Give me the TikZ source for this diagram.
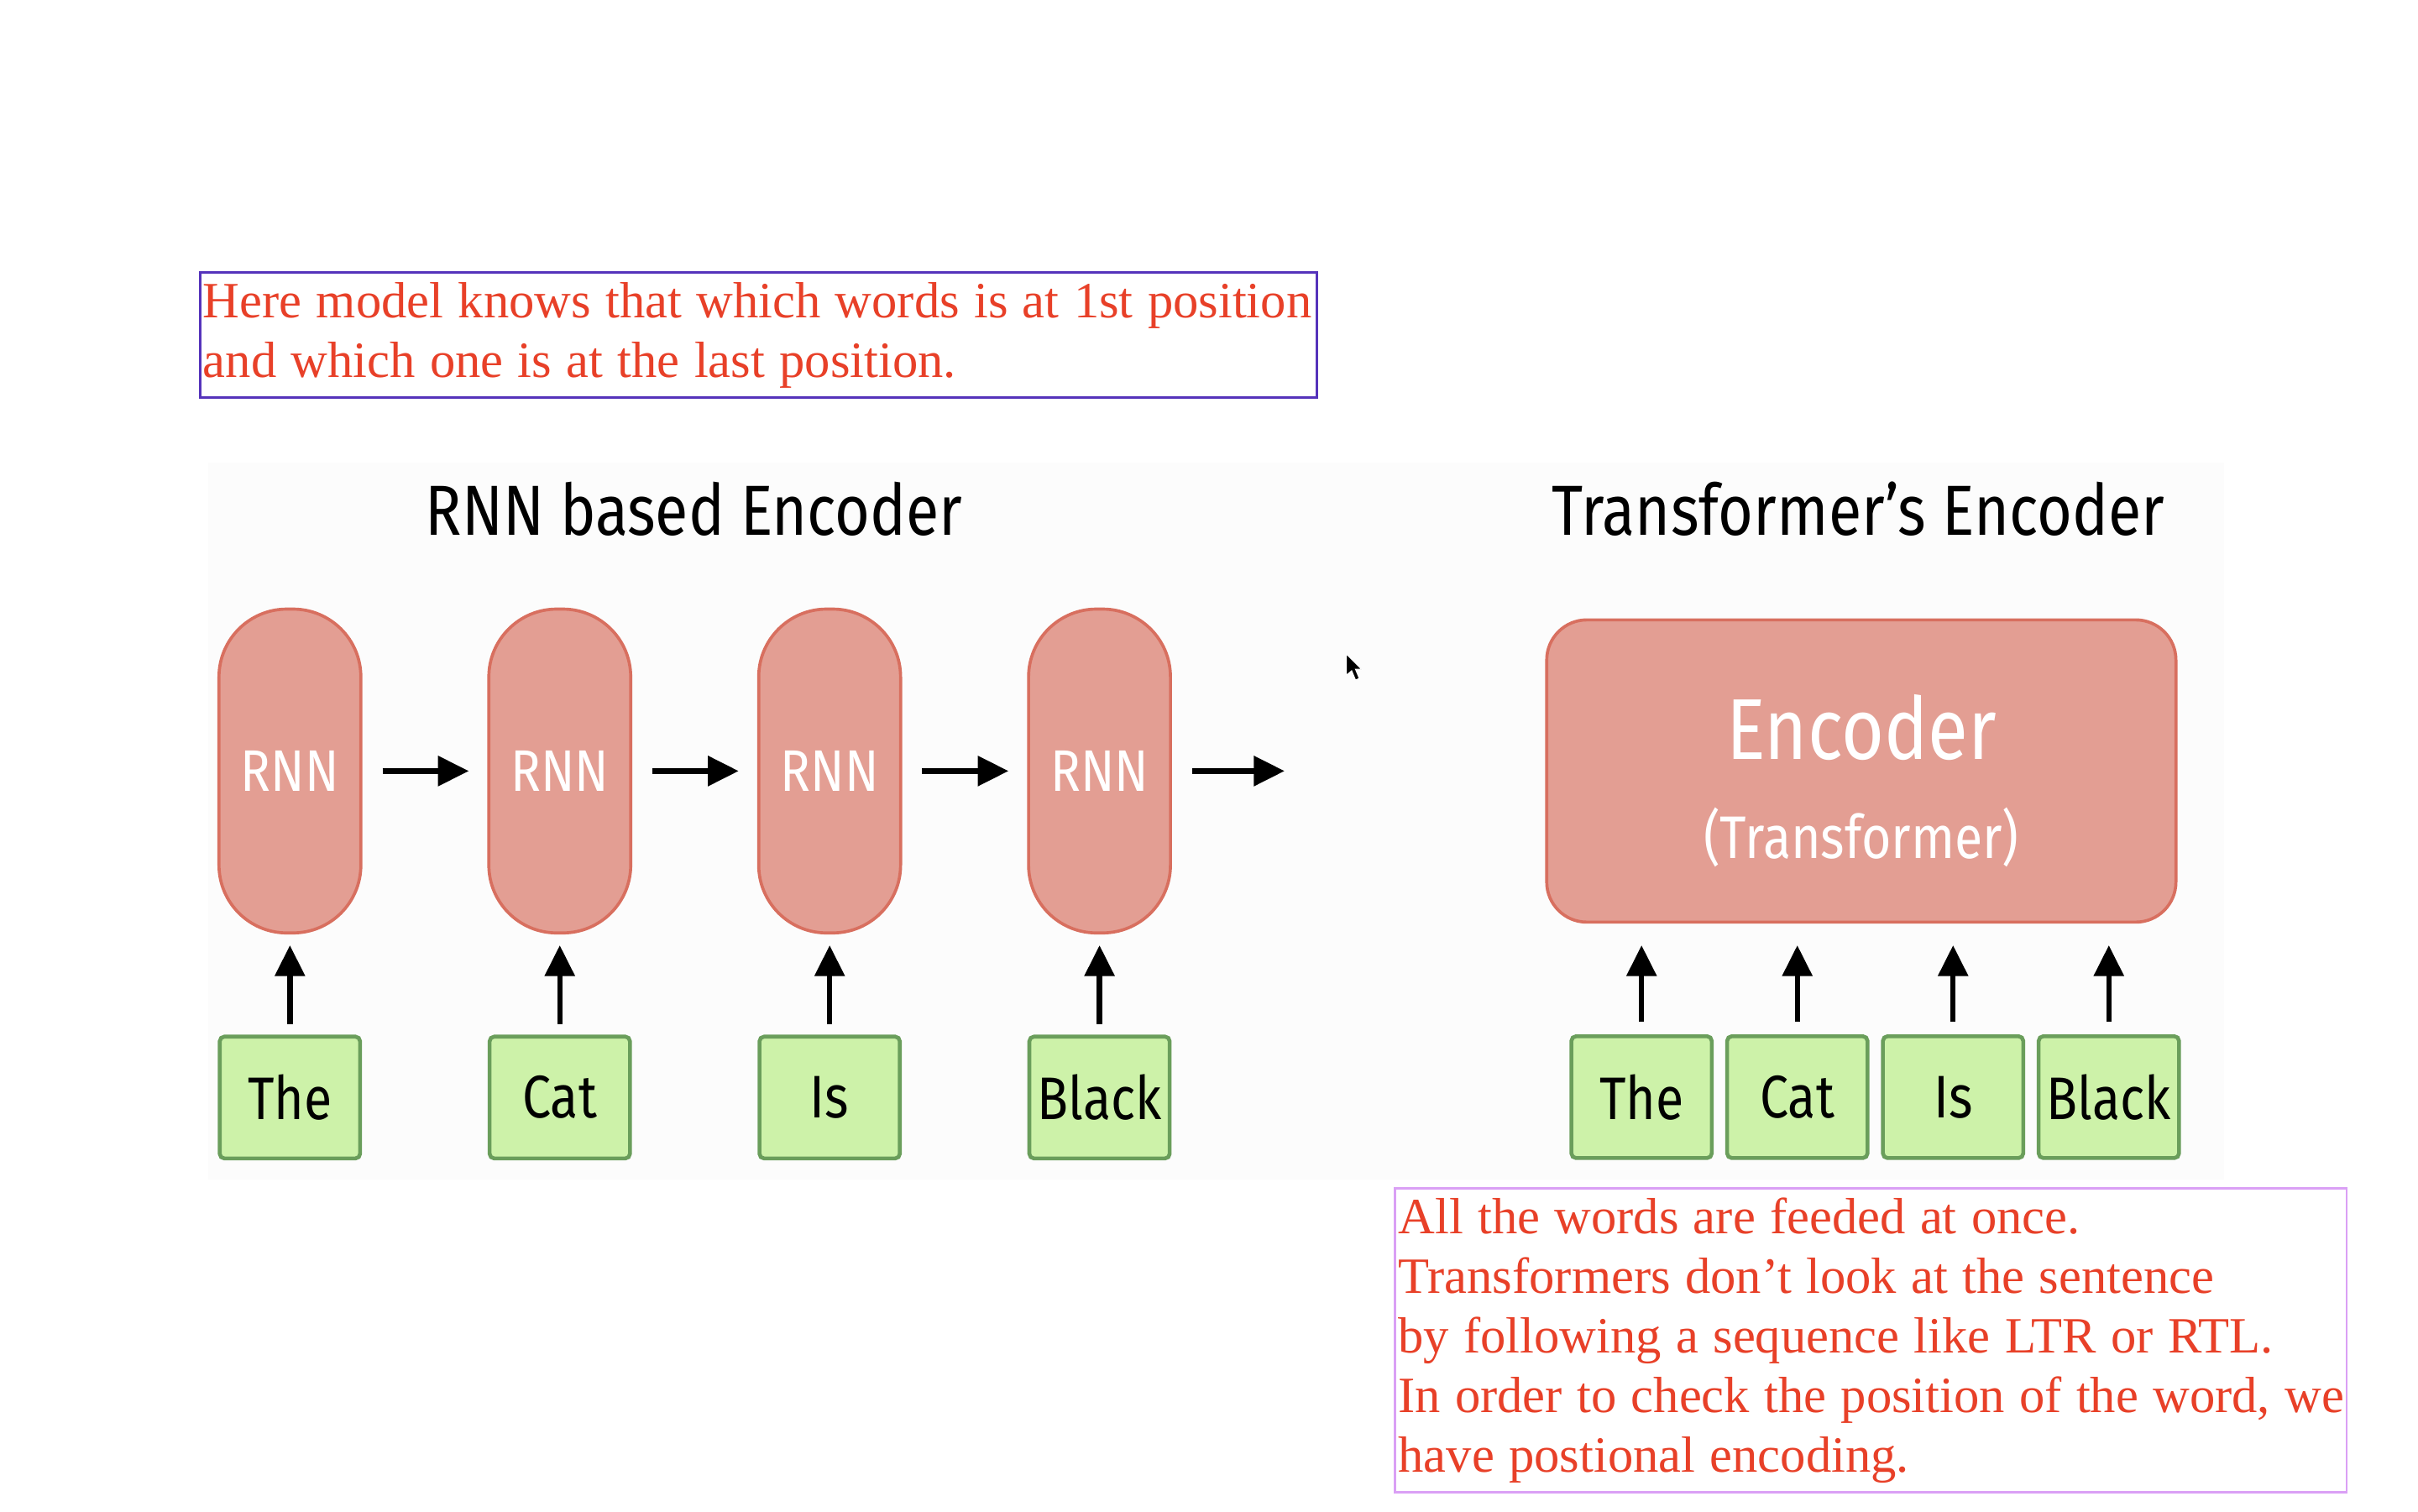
\documentclass[tikz,border=0pt]{standalone}
\usepackage{fontspec}
\setmainfont{Liberation Serif}
\newfontfamily\handfont[FakeStretch=0.85]{Fira Sans}
\usepackage{xcolor}
\usetikzlibrary{arrows.meta,positioning}

\definecolor{notered}{RGB}{232,64,40}
\definecolor{noteblue}{RGB}{85,51,187}
\definecolor{noteviolet}{RGB}{218,160,245}
\definecolor{rnnfill}{RGB}{227,158,147}
\definecolor{rnnline}{RGB}{216,111,95}
\definecolor{wordfill}{RGB}{205,242,169}
\definecolor{wordline}{RGB}{106,158,91}

\begin{document}
\begin{tikzpicture}[
    x=1pt, y=-1pt,
    node distance=81pt,
    note/.style={draw, line width=1.5pt, text=notered, anchor=north west, inner xsep=2pt, inner ysep=5pt, font=\fontsize{33}{38.7}\selectfont, execute at begin node={\raggedright\spaceskip=9.4pt plus 2pt minus 1pt}},
    rnn/.style={rectangle, rounded corners=44pt, draw=rnnline, fill=rnnfill, line width=2pt, minimum width=92pt, minimum height=210pt, text=white, font=\handfont\fontsize{38}{40}\selectfont},
    encbox/.style={rectangle, rounded corners=26pt, draw=rnnline, fill=rnnfill, line width=2pt, minimum width=408pt, minimum height=196pt},
    word/.style={rectangle, rounded corners=3pt, draw=wordline, fill=wordfill, line width=2.5pt, minimum width=91pt, minimum height=79pt, font=\handfont\fontsize{39}{41}\selectfont},
    title/.style={font=\handfont\fontsize{46}{50}\selectfont},
    flow/.style={-{Triangle[length=20pt,width=19pt]}, line width=3.5pt}
]
\useasboundingbox (0,0) rectangle (1568,980);
\fill[white] (0,0) rectangle (1568,980);
\fill[black!1] (135,300) rectangle (1442,765);

% Notes
\node[note, draw=noteblue, text width=720pt, minimum height=81pt] (posnote) at (129,176) {\mbox{Here model knows that which words is at 1st position}\\\mbox{and which one is at the last position.}};
\node[note, draw=noteviolet, text width=613pt, minimum height=197pt] (seqnote) at (904,770) {\mbox{All the words are feeded at once.}\\\mbox{Transformers don’t look at the sentence}\\\mbox{by following a sequence like LTR or RTL.}\\\mbox{In order to check the position of the word, we}\\\mbox{have postional encoding.}};

% Titles
\node[title] (rnntitle) at (450,330) {RNN based Encoder};
\node[title] (trftitle) at (1205,330) {Transformer’s Encoder};

% RNN based encoder
\node[rnn] (rnn1) at (188,500) {RNN};
\node[rnn, right=of rnn1] (rnn2) {RNN};
\node[rnn, right=of rnn2] (rnn3) {RNN};
\node[rnn, right=of rnn3] (rnn4) {RNN};
\coordinate[right=73pt of rnn4] (rnnout);

\node[word, below=65pt of rnn1] (w1) {The};
\node[word, below=65pt of rnn2] (w2) {Cat};
\node[word, below=65pt of rnn3] (w3) {Is};
\node[word, below=65pt of rnn4] (w4) {Black};

% Transformer's encoder
\node[encbox] (enc) at (1207,500) {};
\node[text=white, font=\handfont\fontsize{56}{60}\selectfont] (enctext) at ([yshift=28pt]enc.center) {Encoder};
\node[text=white, font=\handfont\fontsize{39}{42}\selectfont] (encsub) at ([yshift=-43pt]enc.center) {(Transformer)};

\node[word] (tw1) at (1064.5,711.5) {The};
\node[word, right=7.5pt of tw1] (tw2) {Cat};
\node[word, right=7.5pt of tw2] (tw3) {Is};
\node[word, right=7.5pt of tw3] (tw4) {Black};

% Arrows
\draw[flow, shorten <=13pt, shorten >=12pt] (rnn1) -- (rnn2);
\draw[flow, shorten <=13pt, shorten >=12pt] (rnn2) -- (rnn3);
\draw[flow, shorten <=13pt, shorten >=12pt] (rnn3) -- (rnn4);
\draw[flow, shorten <=13pt] (rnn4) -- (rnnout);
\draw[flow, shorten <=7pt, shorten >=7pt] (w1) -- (rnn1);
\draw[flow, shorten <=7pt, shorten >=7pt] (w2) -- (rnn2);
\draw[flow, shorten <=7pt, shorten >=7pt] (w3) -- (rnn3);
\draw[flow, shorten <=7pt, shorten >=7pt] (w4) -- (rnn4);
\draw[flow, shorten <=8pt, shorten >=14pt] (tw1.north) -- (tw1.north |- enc.south);
\draw[flow, shorten <=8pt, shorten >=14pt] (tw2.north) -- (tw2.north |- enc.south);
\draw[flow, shorten <=8pt, shorten >=14pt] (tw3.north) -- (tw3.north |- enc.south);
\draw[flow, shorten <=8pt, shorten >=14pt] (tw4.north) -- (tw4.north |- enc.south);

% Pointer
\filldraw[draw=white, line width=0.6pt] (873,424) -- (873,438) -- (876.5,435) -- (879,441) -- (881.5,440) -- (879,434) -- (883,434) -- cycle;

\end{tikzpicture}
\end{document}
